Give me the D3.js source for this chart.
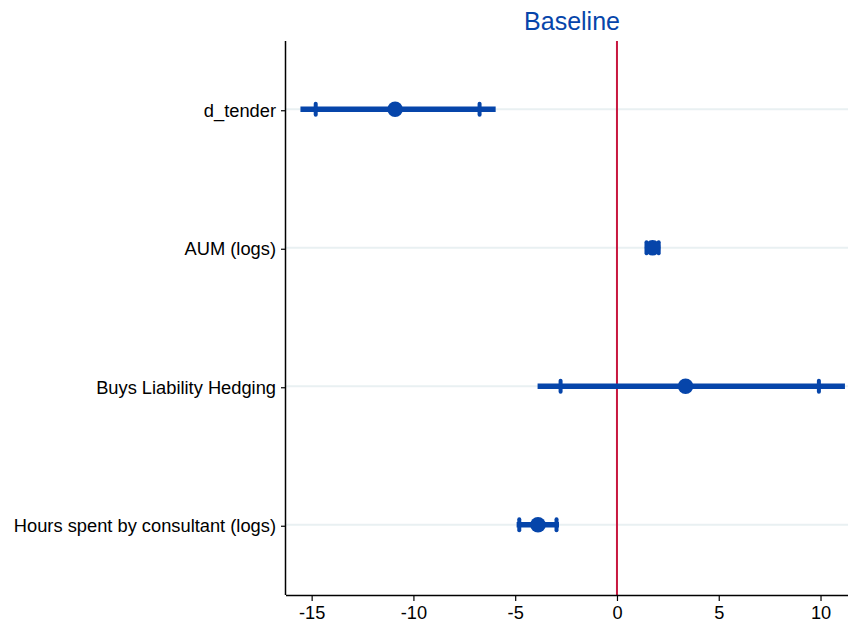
<!DOCTYPE html>
<html><head><meta charset="utf-8">
<script src="https://cdn.jsdelivr.net/npm/d3@7"></script>
<style>body{margin:0;background:#fff;}svg{display:block;font-family:"Liberation Sans",Arial,sans-serif;}</style>
</head><body>
<svg id="c" width="850" height="624"></svg>
<script>
const categories = ["d_tender","AUM (logs)","Buys Liability Hedging","Hours spent by consultant (logs)"];
const coef   = [-10.9, 1.75, 3.37, -3.88];
const ciLow  = [-15.55, 1.38, -3.9, -4.93];
const ciHigh = [-5.96, 2.12, 11.2, -2.85];
const capLow = [-14.8, 1.45, -2.77, -4.8];
const capHigh= [-6.75, 2.05, 9.92, -2.97];
const xTicks = [-15,-10,-5,0,5,10];
const title = "Baseline";

const blue = "#0645aa", red = "#c8173f";
const svg = d3.select("#c");
const L=286, R=848, T=41, B=595;
const x = d3.scaleLinear().domain([-16.26, 11.35]).range([L,R]);
const y = d3.scaleLinear().domain([0.5, 4.5]).range([T,B]);

svg.append("g").selectAll("line").data(categories).join("line")
  .attr("x1",L).attr("x2",R).attr("y1",(d,i)=>y(i+1)-1).attr("y2",(d,i)=>y(i+1)-1)
  .attr("stroke","#e9f0f2").attr("stroke-width",2);

svg.append("line").attr("x1",x(0)).attr("x2",x(0)).attr("y1",T).attr("y2",B)
  .attr("stroke",red).attr("stroke-width",2);

const xa = svg.append("g").attr("transform",`translate(0,${B})`)
  .call(d3.axisBottom(x).tickValues(xTicks).tickSize(6).tickPadding(5).tickFormat(d3.format("d")));
xa.select(".domain").attr("d",`M${L},0.5H${R}`).attr("stroke","#000").attr("stroke-width",1.5);
xa.selectAll("text").attr("font-size",18.2).attr("fill","#000").attr("font-family","Liberation Sans, Arial, sans-serif").text(d=>d<0?"-"+Math.abs(d):d);
xa.selectAll(".tick line").attr("stroke","#000").attr("stroke-width",1.2);

const ya = svg.append("g").attr("transform",`translate(${L},0)`)
  .call(d3.axisLeft(y).tickValues([1,2,3,4]).tickSize(5).tickPadding(5).tickFormat(d=>categories[d-1]));
ya.select(".domain").attr("d",`M-0.5,${T}V${B}`).attr("stroke","#000").attr("stroke-width",1.5);
ya.selectAll("text").attr("font-size",18.3).attr("fill","#000").attr("font-family","Liberation Sans, Arial, sans-serif");
ya.selectAll(".tick line").attr("stroke","#000").attr("stroke-width",1.2);

const g = svg.append("g");
g.selectAll("line.ci").data(categories).join("line").attr("class","ci")
  .attr("x1",(d,i)=>x(ciLow[i])).attr("x2",(d,i)=>x(ciHigh[i]))
  .attr("y1",(d,i)=>y(i+1)-1).attr("y2",(d,i)=>y(i+1)-1)
  .attr("stroke",blue).attr("stroke-width",5.5);
const caps = [];
categories.forEach((d,i)=>{caps.push({i,v:capLow[i]});caps.push({i,v:capHigh[i]});});
g.selectAll("line.cap").data(caps).join("line").attr("class","cap")
  .attr("x1",d=>x(d.v)).attr("x2",d=>x(d.v))
  .attr("y1",d=>y(d.i+1)-1-5.5).attr("y2",d=>y(d.i+1)-1+5.5)
  .attr("stroke",blue).attr("stroke-width",4).attr("stroke-linecap","round");
g.selectAll("circle").data(categories).join("circle")
  .attr("cx",(d,i)=>x(coef[i])).attr("cy",(d,i)=>y(i+1)-1).attr("r",7.8).attr("fill",blue);

svg.append("text").attr("x",572).attr("y",30).attr("text-anchor","middle")
  .attr("font-size",25).attr("fill",blue).text(title);
</script>
</body></html>
